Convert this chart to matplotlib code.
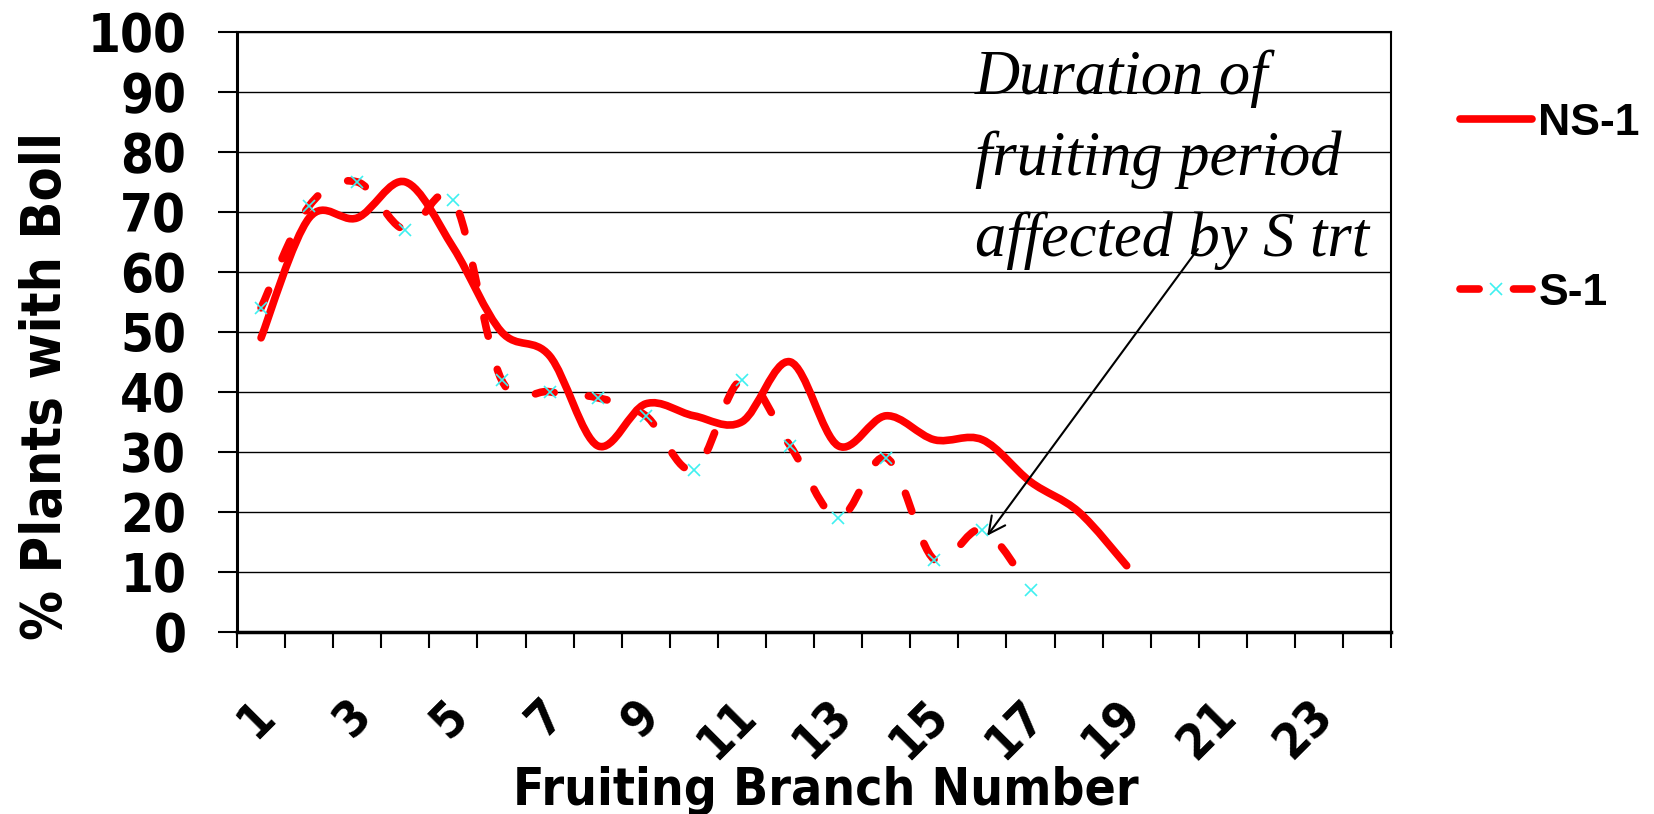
import numpy as np
import matplotlib
matplotlib.use("Agg")
import matplotlib.pyplot as plt
from matplotlib import font_manager as fm
from matplotlib.path import Path
from matplotlib.patches import PathPatch
from matplotlib.lines import Line2D
from matplotlib.transforms import ScaledTranslation

# ---- data ----
branch = list(range(1, 25))
ns1 = [49, 69, 69, 75, 64, 50, 46, 31, 38, 36, 35, 45, 31, 36, 32, 32, 25, 20, 11]
s1 = [54, 71, 75, 67, 72, 42, 40, 39, 36, 27, 42, 31, 19, 29, 12, 17, 7]
tick_pos = branch[::2]
tick_labels = [str(b) for b in tick_pos]
note = "Duration of\nfruiting period\naffected by S trt"

RED = "#ff0000"
CYAN = "#3ff0f0"
LW = 5.5
DASH = (0, (2.5, 4.5))

# Verdana-bold-like condensed look; fall back to plain DejaVu (smaller) if the condensed cut is missing
has_cond = any(f.name == "DejaVu Sans" and f.stretch == "condensed" for f in fm.fontManager.ttflist)
k = 1.0 if has_cond else 0.9
plt.rcParams["font.family"] = "DejaVu Sans"
plt.rcParams["font.weight"] = "bold"
plt.rcParams["font.stretch"] = "condensed"


def smooth_path(xs, ys):
    """Excel-like smoothed line: cubic bezier through the points."""
    p = np.column_stack([xs, ys]).astype(float)
    q = np.vstack([p[0], p, p[-1]])
    verts, codes = [p[0]], [Path.MOVETO]
    for i in range(len(p) - 1):
        c1 = q[i + 1] + (q[i + 2] - q[i]) / 6
        c2 = q[i + 2] - (q[i + 3] - q[i + 1]) / 6
        verts += [c1, c2, q[i + 2]]
        codes += [Path.CURVE4] * 3
    return Path(verts, codes)


fig = plt.figure(figsize=(16.54, 8.14), dpi=100)
ax = fig.add_axes([0.1433, 0.224, 0.6978, 0.7367])

x_ns = branch[:len(ns1)]
x_s = branch[:len(s1)]

ax.add_patch(PathPatch(smooth_path(x_ns, ns1), fill=False, edgecolor=RED,
                       lw=LW, capstyle="round", joinstyle="round", zorder=3))
ax.add_patch(PathPatch(smooth_path(x_s, s1), fill=False, edgecolor=RED,
                       lw=LW, linestyle=DASH, capstyle="round", joinstyle="round", zorder=3))
ax.plot(x_s, s1, ls="none", marker="x", ms=8, mew=1.2, color=CYAN, zorder=4)

ax.set_xlim(0.5, 24.5)
ax.set_ylim(0, 100)
ax.set_yticks(range(0, 101, 10))
ax.set_xticks(tick_pos)
ax.set_xticklabels(tick_labels)
ax.set_xticks(np.arange(0.5, 25, 1), minor=True)
ax.yaxis.grid(True, color="black", lw=1.0)
ax.set_axisbelow(True)

ax.tick_params(axis="y", length=13.5, width=1.5, labelsize=38 * k, pad=23)
ax.tick_params(axis="x", which="major", length=0, labelsize=35 * k, pad=55)
ax.tick_params(axis="x", which="minor", length=11.5, width=1.5)
for lbl in ax.get_xticklabels():
    lbl.set_rotation(45)
    lbl.set_rotation_mode("anchor")
    lbl.set_ha("right")
    lbl.set_va("center")
    lbl.set_transform(lbl.get_transform() + ScaledTranslation(6 / 100, 0, fig.dpi_scale_trans))

for side, w in [("left", 2.2), ("bottom", 2.5), ("right", 1.5), ("top", 1.5)]:
    ax.spines[side].set_linewidth(w)
    ax.spines[side].set_color("black")

ax.set_ylabel("% Plants with Boll", fontsize=40 * k, fontweight="bold")
ax.yaxis.set_label_coords(-0.1425, 0.41)
ax.set_xlabel("Fruiting Branch Number", fontsize=37 * k, fontweight="bold", va="top")
ax.xaxis.set_label_coords(0.510, -0.224)

# va="baseline" pins the last line's baseline
ax.text(15.85, 62.7, note, family="Liberation Serif", style="italic", fontweight="normal",
        fontstretch="normal", fontsize=45, ha="left", va="baseline", linespacing=1.5, zorder=5)
ax.annotate("", xy=(16.1, 16), xytext=(20.48, 63.8),
            arrowprops=dict(arrowstyle="->", color="black", lw=1.5,
                            shrinkA=0, shrinkB=0, mutation_scale=30), zorder=5)

handles = [Line2D([], [], color=RED, lw=LW, solid_capstyle="round"),
           Line2D([], [], color=RED, lw=LW, ls=DASH, dash_capstyle="round",
                  marker="x", ms=8, mew=1.2, mec=CYAN)]
ax.legend(handles, ["NS-1", "S-1"], loc="upper left", frameon=False,
          bbox_to_anchor=(1460 / 1654, 1 - 103 / 814), bbox_transform=fig.transFigure,
          borderaxespad=0, borderpad=0, handlelength=1.62, handletextpad=0.14,
          labelspacing=2.9, numpoints=1,
          prop=dict(family="Liberation Sans", weight="bold", stretch="normal", size=32))

fig.savefig("out.png", dpi=100)
